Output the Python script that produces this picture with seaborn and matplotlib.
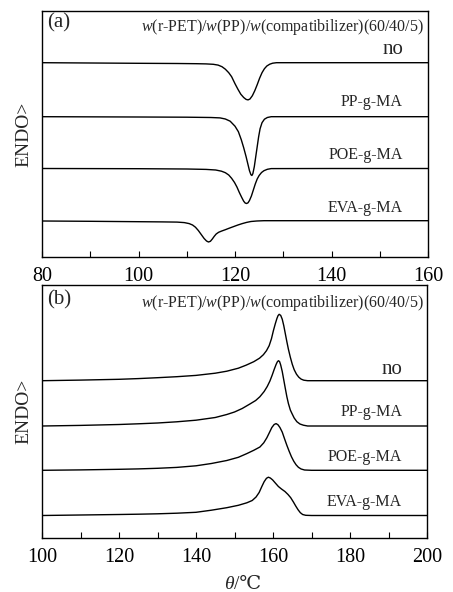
import matplotlib
matplotlib.use("Agg")
import matplotlib.pyplot as plt
import seaborn as sns
import numpy as np
import pandas as pd

# ---------------- data ----------------
samples = ["no", "PP-g-MA", "POE-g-MA", "EVA-g-MA"]
title_text = "$w$(r-PET)/$w$(PP)/$w$(compatibilizer)(60/40/5)"

# Panel (a): crystallization exotherm depth (arb. units)
a_no_T = [80, 90, 100, 108, 112, 114, 115.5, 116.5, 117.3, 118, 118.7, 119.3, 120, 120.6, 121.2, 121.8,
          122.3, 122.7, 123.1, 123.6, 124.1, 124.6, 125.1, 125.6, 126.1, 126.6, 127.2, 127.8, 128.6, 140, 160]
a_no_d = [0, 0.3, 0.6, 0.8, 1.0, 1.2, 1.6, 2.4, 4, 6.5, 10, 14, 21, 26.5, 31.5, 34.8,
          36.7, 37.2, 36.3, 33, 28, 22, 15.5, 10, 6, 3.3, 1.5, 0.5, 0, 0, 0]

a_pp_T = [80, 100, 110, 115, 116.9, 118, 119, 120, 120.7, 121.3, 121.8, 122.3, 122.7, 123.0, 123.3, 123.5,
          123.7, 124.0, 124.3, 124.6, 124.9, 125.2, 125.6, 126.1, 126.7, 127.5, 140, 160]
a_pp_d = [0, 0.3, 0.5, 0.8, 1.2, 2.3, 4.5, 9.5, 15, 23, 31, 40, 48, 54, 58, 58.8,
          57, 50, 40, 30, 20, 12, 6, 2.5, 0.8, 0, 0, 0]

a_poe_T = [80, 100, 110, 114, 116, 117.2, 118, 118.7, 119.3, 119.9, 120.4, 120.9, 121.4, 121.8, 122.1,
           122.4, 122.7, 123.0, 123.4, 123.8, 124.2, 124.6, 125.0, 125.5, 126.0, 126.7, 127.5, 140, 160]
a_poe_d = [0, 0.2, 0.5, 0.9, 1.5, 2.7, 4.2, 6.5, 9.8, 14, 18.5, 24, 29, 32.7, 34.5,
           35, 34.3, 32, 27.5, 21.5, 15.5, 10.5, 7, 4, 2.2, 0.8, 0.1, 0, 0]

a_eva_T = [80, 90, 100, 105, 108, 109.5, 110.5, 111.2, 111.8, 112.4, 113.0, 113.6, 114.1, 114.5, 114.9,
           115.3, 115.7, 116.1, 116.6, 117.2, 118.0, 118.8, 119.7, 120.6, 121.5, 122.4, 123.3, 124.5, 126, 160]
a_eva_d = [0, 0.3, 0.7, 0.9, 1.1, 1.6, 2.6, 4, 6.2, 9.5, 13.5, 17.5, 20, 21, 20.3,
           18, 15.3, 13, 11.3, 10.1, 8.7, 7.2, 5.6, 4.0, 2.6, 1.4, 0.5, 0, -0.3, -0.3]

# Panel (b): melting endotherm height (arb. units)
b_no_T = [100, 110, 120, 125, 130, 135, 140, 145, 148, 151, 153, 155, 156.5, 157.5, 158.3, 159, 159.6,
          160.1, 160.6, 161.0, 161.3, 161.6, 162.0, 162.4, 162.8, 163.2, 163.6, 164.0, 164.5, 165.0,
          165.5, 166.1, 166.7, 167.3, 168.0, 169, 200]
b_no_h = [0, 0.6, 1.4, 2.1, 3.0, 4.0, 5.3, 7.5, 9.5, 12.5, 15.5, 19, 22.5, 26, 30, 35, 42,
          50, 57, 62, 65, 66.4, 65.3, 61.5, 55, 47, 39, 31.5, 23.5, 16.5,
          11, 6.5, 3.5, 1.6, 0.5, 0, 0]

b_pp_T = [100, 110, 120, 125, 130, 135, 140, 145, 148, 150, 152, 154, 155.5, 156.6, 157.7, 158.5, 159.2,
          159.8, 160.3, 160.8, 161.1, 161.4, 161.7, 162.0, 162.4, 162.8, 163.2, 163.6, 164.0, 164.5,
          164.9, 165.5, 166.2, 167.0, 167.9, 169, 200]
b_pp_h = [0, 0.6, 1.5, 2.2, 3.0, 4.2, 5.8, 8.5, 11.5, 14, 17.5, 22, 25.5, 29.3, 34.5, 39.5, 45,
          51, 56.5, 61.5, 64, 65.3, 64.5, 61, 54.5, 46, 37.5, 29.3, 22.5, 16,
          12.7, 8, 4.3, 2, 0.8, 0, 0]

b_poe_T = [100, 110, 120, 125, 130, 135, 140, 144, 148, 151, 153.2, 155, 156.6, 157.6, 158.4, 159.1,
           159.7, 160.3, 160.8, 161.3, 161.8, 162.4, 163.0, 163.6, 164.2, 164.8, 165.4, 166.0, 166.6,
           167.3, 168.2, 170, 200]
b_poe_h = [0, 0.4, 1.0, 1.4, 2.0, 2.9, 4.5, 6.8, 9.8, 13, 16.7, 20, 23.3, 27.5, 32.5, 38,
           42.8, 45.8, 46.7, 45.5, 42.8, 38.2, 31.5, 25, 19, 13.5, 9, 5.5, 3.0,
           1.3, 0.3, 0, 0]

b_eva_T = [100, 110, 120, 125, 130, 135, 140, 144, 148, 151, 153.2, 154.6, 155.6, 156.4, 157.1, 157.7,
           158.3, 158.8, 159.3, 159.9, 160.6, 161.4, 162.2, 163.1, 163.9, 164.6, 165.3, 165.9, 166.5,
           167.1, 167.7, 168.5, 170, 200]
b_eva_h = [0, 0.5, 1.0, 1.3, 1.7, 2.3, 3.2, 5.3, 7.8, 10.2, 12.7, 15, 18.5, 23, 29, 33.8,
           37.2, 38.3, 37.5, 35.6, 32.5, 29, 26.5, 24, 21, 17.8, 13.5, 9.5, 5.8,
           2.8, 1.0, 0.2, 0, 0]

# stacking offsets (baselines)
a_offsets = [194.3, 140.3, 88.5, 36.0]
b_offsets = [157.3, 112.0, 67.7, 22.5]

# ---------------- style ----------------
sns.set_style("ticks")
serif_list = ['Liberation Serif', 'DejaVu Serif', 'DejaVu Sans']
plt.rcParams['font.family'] = serif_list
plt.rcParams['mathtext.fontset'] = 'custom'
plt.rcParams['mathtext.rm'] = 'Liberation Serif'
plt.rcParams['mathtext.it'] = 'Liberation Serif:italic'

fig = plt.figure(figsize=(4.53, 5.92), dpi=100)
ax_a = fig.add_axes([42/453, 1-257/592, 386/453, 246/592])
ax_b = fig.add_axes([42/453, 1-538/592, 385/453, 253/592])

a_curves = [(a_no_T, a_no_d), (a_pp_T, a_pp_d), (a_poe_T, a_poe_d), (a_eva_T, a_eva_d)]
b_curves = [(b_no_T, b_no_h), (b_pp_T, b_pp_h), (b_poe_T, b_poe_h), (b_eva_T, b_eva_h)]

rows = []
for name, (T, d), off in zip(samples, a_curves, a_offsets):
    for t, v in zip(T, d):
        rows.append(("a", name, t, off - v))
for name, (T, h), off in zip(samples, b_curves, b_offsets):
    for t, v in zip(T, h):
        rows.append(("b", name, t, off + v))
df = pd.DataFrame(rows, columns=["panel", "sample", "T", "signal"])

for ax, p in [(ax_a, "a"), (ax_b, "b")]:
    sub = df[df.panel == p]
    sns.lineplot(data=sub, x="T", y="signal", units="sample", estimator=None,
                 color="black", linewidth=1.0, sort=False, ax=ax, legend=False)

ax_a.set_xlim(80, 160)
ax_a.set_ylim(0, 246)
ax_a.set_xticks([80, 100, 120, 140, 160])
ax_a.set_xticks([90, 110, 130, 150], minor=True)
ax_b.set_xlim(100, 200)
ax_b.set_ylim(0, 253)
ax_b.set_xticks([100, 120, 140, 160, 180, 200])
ax_b.set_xticks([110, 130, 150, 170, 190], minor=True)

for ax in (ax_a, ax_b):
    ax.set_yticks([])
    ax.set_ylabel("ENDO>", fontsize=14, labelpad=7)
    ax.set_xlabel("")
    ax.tick_params(axis="x", which="both", direction="in", length=4, width=0.8,
                   labelsize=14.5, pad=7.5, colors="black")
    for s in ax.spines.values():
        s.set_visible(True)
        s.set_color("black")
        s.set_linewidth(1.0)

# x label of panel (b): italic theta + "/℃"
ax_b.text(0.497, -0.2, "θ", transform=ax_b.transAxes, fontsize=14, style="italic",
          ha="right", va="baseline", family=serif_list)
ax_b.text(0.499, -0.2, "/℃", transform=ax_b.transAxes, fontsize=14,
          ha="left", va="baseline", family=serif_list)

# annotations panel a
ax_a.text(81.0, 234, "(a)", fontsize=15, ha="left", va="center")
ax_a.text(159.2, 230, title_text, fontsize=11.5, ha="right", va="center")
a_label_y = [207, 155, 102, 49]
label_sizes = [15, 11.5, 11.5, 11.5]
for name, y, fs in zip(samples, a_label_y, label_sizes):
    ax_a.text(154.8, y, name, fontsize=fs, ha="right", va="center")

# annotations panel b
ax_b.text(101.3, 238, "(b)", fontsize=15, ha="left", va="center")
ax_b.text(199.2, 235, title_text, fontsize=11.5, ha="right", va="center")
b_label_y = [168, 126.3, 81.3, 36.3]
for name, y, fs in zip(samples, b_label_y, label_sizes):
    ax_b.text(193.5, y, name, fontsize=fs, ha="right", va="center")

fig.savefig("out.png", dpi=100)
